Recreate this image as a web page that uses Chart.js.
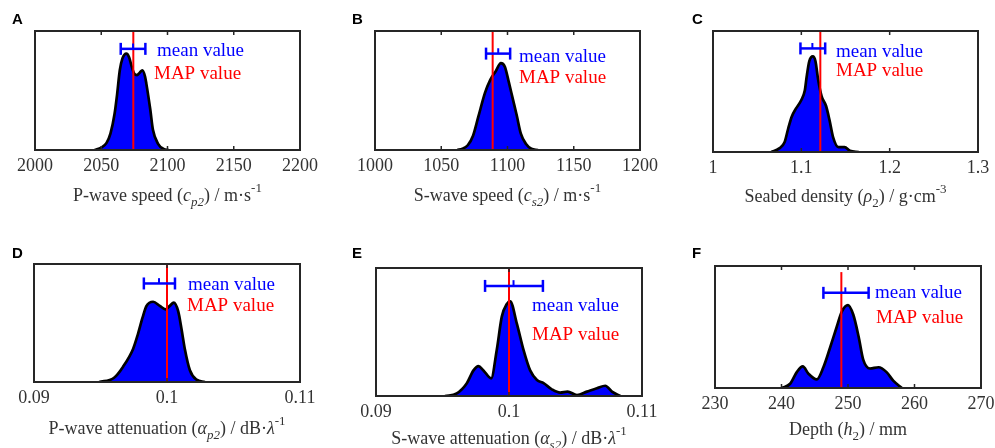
<!DOCTYPE html>
<html lang="en">
  <head>
    <meta charset="UTF-8" />
    <title>Posterior distributions of seabed parameters</title>
    <script src="https://cdn.jsdelivr.net/npm/chart.js"></script>
    <style>
      body {
        margin: 0;
        background: #fff;
      }
      #wrap {
        position: relative;
        width: 995px;
        height: 448px;
        overflow: hidden;
      }
      #wrap canvas {
        position: absolute;
      }
      .tag {
        position: absolute;
        font: bold 15px 'Liberation Sans', Arial, sans-serif;
        line-height: 15px;
        color: #000;
      }
    </style>
  </head>
  <body>
    <div id="wrap">
      <canvas id="cA" width="330" height="224" style="left: 0; top: 0"></canvas>
      <canvas id="cB" width="330" height="224" style="left: 330px; top: 0"></canvas>
      <canvas id="cC" width="335" height="224" style="left: 660px; top: 0"></canvas>
      <canvas id="cD" width="330" height="224" style="left: 0; top: 224px"></canvas>
      <canvas id="cE" width="330" height="224" style="left: 330px; top: 224px"></canvas>
      <canvas id="cF" width="335" height="224" style="left: 660px; top: 224px"></canvas>
      <div class="tag" style="left: 12px; top: 11px">A</div>
      <div class="tag" style="left: 352px; top: 11px">B</div>
      <div class="tag" style="left: 692px; top: 11px">C</div>
      <div class="tag" style="left: 12px; top: 245px">D</div>
      <div class="tag" style="left: 352px; top: 245px">E</div>
      <div class="tag" style="left: 692px; top: 245px">F</div>
    </div>

    <script>
      // posterior density curves (height scaled to the axes box, 0..1)
      const pSpeedX = [2045, 2050, 2054, 2057, 2060, 2062, 2064, 2066, 2069, 2071, 2073, 2075, 2077, 2079, 2081, 2083, 2084, 2087, 2089, 2093, 2097, 2101]
      const pSpeedY = [0, 0.02, 0.06, 0.14, 0.3, 0.47, 0.67, 0.77, 0.81, 0.78, 0.7, 0.64, 0.63, 0.65, 0.67, 0.62, 0.56, 0.34, 0.17, 0.05, 0.01, 0]

      const sSpeedX = [1062, 1066, 1070, 1074, 1078, 1083, 1087, 1091, 1095, 1098, 1101, 1104, 1107, 1110, 1114, 1118, 1123]
      const sSpeedY = [0, 0.01, 0.04, 0.12, 0.28, 0.48, 0.59, 0.66, 0.73, 0.7, 0.57, 0.43, 0.29, 0.14, 0.05, 0.01, 0]

      const densX = [1.066, 1.075, 1.081, 1.085, 1.089, 1.094, 1.1, 1.104, 1.106, 1.109, 1.113, 1.116, 1.119, 1.123, 1.128, 1.132, 1.136, 1.142, 1.149, 1.155, 1.165]
      const densY = [0, 0.03, 0.08, 0.19, 0.29, 0.36, 0.43, 0.51, 0.62, 0.75, 0.79, 0.75, 0.6, 0.46, 0.38, 0.26, 0.12, 0.04, 0.04, 0.01, 0]

      const pAttX = [0.0949, 0.096, 0.0967, 0.09745, 0.0978, 0.09816, 0.09846, 0.09896, 0.09946, 0.09989, 0.10021, 0.10051, 0.10084, 0.10109, 0.10134, 0.10172, 0.10222, 0.10285]
      const pAttY = [0, 0.034, 0.13, 0.28, 0.4, 0.545, 0.645, 0.68, 0.645, 0.616, 0.645, 0.673, 0.6, 0.45, 0.28, 0.1, 0.02, 0]

      const sAttX = [0.09519, 0.09607, 0.09683, 0.09733, 0.0977, 0.09808, 0.09866, 0.09908, 0.09946, 0.09984, 0.10009, 0.10059, 0.10109, 0.10159, 0.1021, 0.1026, 0.10322, 0.10385, 0.1044, 0.10511, 0.10586, 0.10661, 0.10724, 0.10774, 0.10837]
      const sAttY = [0, 0.02, 0.1, 0.2, 0.234, 0.2, 0.138, 0.36, 0.62, 0.72, 0.74, 0.566, 0.36, 0.2, 0.125, 0.1, 0.052, 0.026, 0.034, 0.008, 0.034, 0.06, 0.08, 0.034, 0]

      const depthX = [240.04, 241.3, 242.3, 243.2, 244.05, 245.3, 246.3, 247.3, 248.3, 249.1, 250, 250.8, 251.6, 252.3, 253.3, 254.6, 255.8, 256.8, 258.1]
      const depthY = [0, 0.035, 0.13, 0.177, 0.117, 0.07, 0.17, 0.33, 0.5, 0.63, 0.68, 0.6, 0.42, 0.23, 0.16, 0.17, 0.13, 0.06, 0]

      // MAP, mean and spread of each parameter; bar = height of the mean bar
      const pSpeedStats = { map: 2074.2, mapTop: 1, mean: 2074, lo: 2064.7, hi: 2083.3, bar: 0.85 }
      const sSpeedStats = { map: 1088.8, mapTop: 1, mean: 1093, lo: 1083.8, hi: 1102, bar: 0.81 }
      const densStats = { map: 1.1215, mapTop: 1, mean: 1.1125, lo: 1.099, hi: 1.127, bar: 0.856 }
      const pAttStats = { map: 0.1, mapTop: 1, mean: 0.0994, lo: 0.09826, hi: 0.1006, bar: 0.835 }
      const sAttStats = { map: 0.1, mapTop: 1, mean: 0.10034, lo: 0.0982, hi: 0.10255, bar: 0.86 }
      const depthStats = { map: 249, mapTop: 0.95, mean: 249.6, lo: 246.3, hi: 253.1, bar: 0.78 }

      // axis ranges [min, max, step]
      const pSpeedAxis = [2000, 2200, 50]
      const sSpeedAxis = [1000, 1200, 50]
      const densAxis = [1, 1.3, 0.1]
      const pAttAxis = [0.09, 0.11, 0.01]
      const sAttAxis = [0.09, 0.11, 0.01]
      const depthAxis = [230, 270, 10]

      const SERIF = '"Liberation Serif", "Times New Roman", serif'

      function drawRich(ctx, parts, cx, cy) {
        const spec = (p) => {
          const small = p.sub || p.sup
          return {
            font: (p.it ? 'italic ' : '') + (small ? 13 : 18) + 'px ' + SERIF,
            dy: p.sub ? 7 : p.sup ? -7 : 0,
          }
        }
        let total = 0
        parts.forEach((p) => {
          ctx.font = spec(p).font
          total += ctx.measureText(p.t).width
        })
        let x = cx - total / 2
        ctx.fillStyle = '#333'
        ctx.textAlign = 'left'
        ctx.textBaseline = 'middle'
        parts.forEach((p) => {
          const s = spec(p)
          ctx.font = s.font
          ctx.fillText(p.t, x, cy + s.dy)
          x += ctx.measureText(p.t).width
        })
      }

      // box frame, inner tick marks, labels and the axis title
      const deco = {
        id: 'deco',
        afterDatasetsDraw(chart, args, o) {
          const { ctx, chartArea: a } = chart
          const sx = chart.scales.x
          ctx.save()
          ctx.font = '19px ' + SERIF
          ctx.textAlign = 'left'
          ctx.textBaseline = 'middle'
          ctx.fillStyle = '#0000ff'
          ctx.fillText('mean value', a.left + o.meanAt[0], a.top + o.meanAt[1])
          ctx.fillStyle = '#ff0000'
          ctx.fillText('MAP value', a.left + o.mapAt[0], a.top + o.mapAt[1])

          ctx.strokeStyle = '#262626'
          ctx.lineWidth = 2
          ctx.strokeRect(a.left, a.top, a.right - a.left, a.bottom - a.top)
          ctx.lineWidth = 1.5
          sx.ticks.forEach((t) => {
            if (Math.abs(t.value - sx.min) < 1e-9 || Math.abs(t.value - sx.max) < 1e-9) return
            const px = sx.getPixelForValue(t.value)
            ctx.beginPath()
            ctx.moveTo(px, a.bottom)
            ctx.lineTo(px, a.bottom - 4)
            ctx.moveTo(px, a.top)
            ctx.lineTo(px, a.top + 4)
            ctx.stroke()
          })
          drawRich(ctx, o.title, (a.left + a.right) / 2, a.bottom + o.titleGap)
          ctx.restore()
        },
      }

      function panel(id, xs, ys, st, axis, lay) {
        const cv = document.getElementById(id)
        const [cl, ct] = lay.canvas
        const [bl, bt, br, bb] = lay.box
        new Chart(cv, {
          type: 'line',
          data: {
            datasets: [
              {
                data: xs.map((x, i) => ({ x: x, y: ys[i] })),
                borderColor: '#000',
                borderWidth: 2.7,
                backgroundColor: '#0000ff',
                fill: 'origin',
                pointRadius: 0,
                cubicInterpolationMode: 'monotone',
                order: 3,
              },
              {
                data: [{ x: st.map, y: 0 }, { x: st.map, y: st.mapTop }],
                borderColor: '#ff0000',
                borderWidth: 2,
                pointRadius: 0,
                fill: false,
                order: 2,
              },
              {
                data: [{ x: st.lo, y: st.bar }, { x: st.hi, y: st.bar }],
                borderColor: '#0000ff',
                borderWidth: 2.5,
                pointStyle: 'line',
                pointRotation: 90,
                pointRadius: 6,
                pointBorderWidth: 2.5,
                pointBorderColor: '#0000ff',
                fill: false,
                order: 1,
              },
              {
                data: [{ x: st.mean, y: st.bar }, { x: st.mean, y: st.bar + 0.045 }],
                borderColor: '#0000ff',
                borderWidth: 2,
                pointRadius: 0,
                fill: false,
                order: 0,
              },
            ],
          },
          options: {
            responsive: false,
            animation: false,
            events: [],
            layout: {
              padding: { left: bl - cl, top: bt - ct, right: cl + cv.width - br, bottom: 0 },
            },
            plugins: {
              legend: { display: false },
              tooltip: { enabled: false },
              deco: { meanAt: lay.meanAt, mapAt: lay.mapAt, title: lay.title, titleGap: lay.titleGap },
            },
            scales: {
              x: {
                type: 'linear',
                min: axis[0],
                max: axis[1],
                afterFit: (s) => {
                  s.height = ct + cv.height - bb
                },
                grid: { display: false, drawTicks: true, tickLength: 5 },
                border: { display: false },
                ticks: {
                  stepSize: axis[2],
                  autoSkip: false,
                  maxRotation: 0,
                  padding: 0,
                  color: '#333',
                  font: { family: SERIF, size: 18 },
                  callback: (v) => String(+v.toFixed(4)),
                },
              },
              y: { type: 'linear', min: 0, max: 1, display: false },
            },
          },
          plugins: [deco],
        })
      }

      panel('cA', pSpeedX, pSpeedY, pSpeedStats, pSpeedAxis, {
        canvas: [0, 0],
        box: [35, 31, 300, 150],
        meanAt: [122, 20],
        mapAt: [119, 43],
        titleGap: 46,
        title: [{ t: 'P-wave speed (' }, { t: 'c', it: 1 }, { t: 'p2', it: 1, sub: 1 }, { t: ') / m·s' }, { t: '-1', sup: 1 }],
      })
      panel('cB', sSpeedX, sSpeedY, sSpeedStats, sSpeedAxis, {
        canvas: [330, 0],
        box: [375, 31, 640, 150],
        meanAt: [144, 26],
        mapAt: [144, 47],
        titleGap: 46,
        title: [{ t: 'S-wave speed (' }, { t: 'c', it: 1 }, { t: 's2', it: 1, sub: 1 }, { t: ') / m·s' }, { t: '-1', sup: 1 }],
      })
      panel('cC', densX, densY, densStats, densAxis, {
        canvas: [660, 0],
        box: [713, 31, 978, 152],
        meanAt: [123, 21],
        mapAt: [123, 40],
        titleGap: 45,
        title: [{ t: 'Seabed density (' }, { t: 'ρ', it: 1 }, { t: '2', sub: 1 }, { t: ') / g·cm' }, { t: '-3', sup: 1 }],
      })
      panel('cD', pAttX, pAttY, pAttStats, pAttAxis, {
        canvas: [0, 224],
        box: [34, 264, 300, 382],
        meanAt: [154, 21],
        mapAt: [153, 42],
        titleGap: 47,
        title: [{ t: 'P-wave attenuation (' }, { t: 'α', it: 1 }, { t: 'p2', it: 1, sub: 1 }, { t: ') / dB·' }, { t: 'λ', it: 1 }, { t: '-1', sup: 1 }],
      })
      panel('cE', sAttX, sAttY, sAttStats, sAttAxis, {
        canvas: [330, 224],
        box: [376, 268, 642, 396],
        meanAt: [156, 38],
        mapAt: [156, 67],
        titleGap: 43,
        title: [{ t: 'S-wave attenuation (' }, { t: 'α', it: 1 }, { t: 's2', it: 1, sub: 1 }, { t: ') / dB·' }, { t: 'λ', it: 1 }, { t: '-1', sup: 1 }],
      })
      panel('cF', depthX, depthY, depthStats, depthAxis, {
        canvas: [660, 224],
        box: [715, 266, 981, 388],
        meanAt: [160, 27],
        mapAt: [161, 52],
        titleGap: 42,
        title: [{ t: 'Depth (' }, { t: 'h', it: 1 }, { t: '2', sub: 1 }, { t: ') / mm' }],
      })
    </script>
  </body>
</html>
